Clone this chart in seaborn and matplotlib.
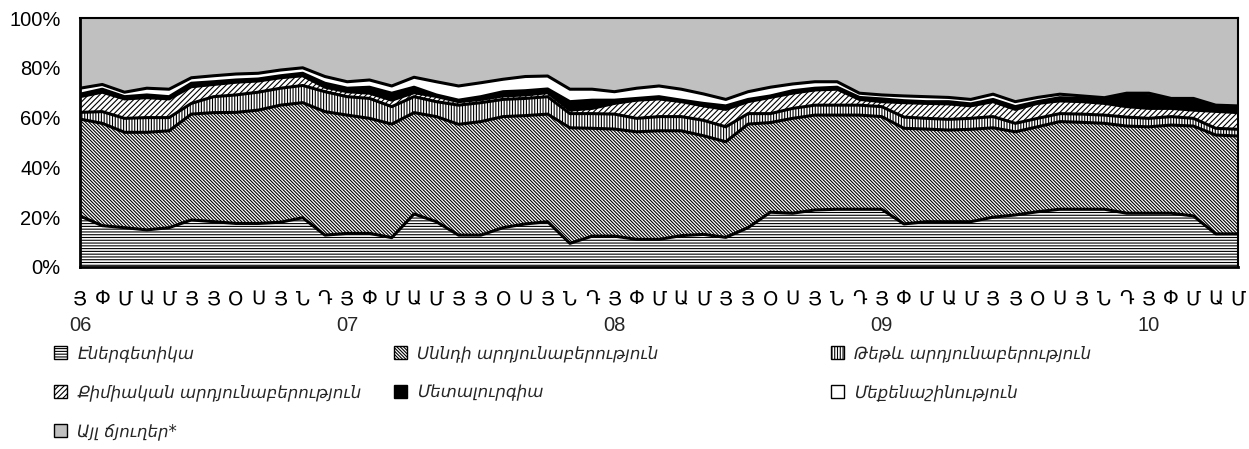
import numpy as np
import pandas as pd
import matplotlib
matplotlib.use("Agg")
import matplotlib.pyplot as plt
import matplotlib.transforms as mtransforms
from matplotlib.patches import Patch
import seaborn as sns

# ---- data (shares, %) ----
months = ["Յ", "Փ", "Մ", "Ա", "Մ", "Յ", "Յ", "Օ", "Ս", "Յ", "Ն", "Դ"]
years = ["06", "07", "08", "09", "10"]
month_labels = (months * 5)[:53]

series_names = [
    "Էներգետիկա",
    "Սննդի արդյունաբերություն",
    "Թեթև արդյունաբերություն",
    "Քիմիական արդյունաբերություն",
    "Մետալուրգիա",
    "Մեքենաշինություն",
    "Այլ ճյուղեր*",
]

energy = [20.5, 16.6, 15.8, 14.9, 15.8, 18.9, 18.2, 17.5, 17.5, 18.0, 19.8, 12.8, 13.5, 13.5,
          11.8, 21.3, 18.2, 12.8, 12.8, 15.8, 17.3, 18.2, 9.5, 12.4, 12.4, 11.1, 11.1, 12.6,
          13.1, 11.9, 15.8, 22.0, 21.6, 22.9, 23.2, 23.2, 23.2, 17.3, 18.2, 18.2, 18.2, 20.0,
          20.9, 22.2, 23.2, 23.2, 23.2, 21.6, 21.6, 21.6, 20.5, 13.3, 13.3]
food = [38.9, 41.1, 38.3, 39.2, 38.9, 42.5, 43.8, 44.6, 45.5, 47.0, 46.2, 49.6, 47.5, 46.2,
        45.6, 40.7, 42.2, 44.5, 45.6, 44.6, 43.5, 43.2, 46.4, 43.3, 43.0, 43.2, 43.6, 42.1,
        39.6, 38.4, 41.6, 36.0, 38.1, 38.1, 37.8, 37.8, 37.2, 38.4, 37.2, 36.8, 37.1, 35.9,
        33.4, 34.1, 35.2, 34.9, 34.5, 35.0, 34.7, 35.4, 36.1, 39.7, 39.3]
light = [2.7, 4.7, 5.6, 5.9, 5.3, 4.3, 6.4, 7.0, 7.2, 6.8, 6.9, 8.0, 7.4, 8.0,
         7.0, 6.4, 6.0, 7.7, 7.6, 6.9, 6.9, 7.0, 5.7, 5.9, 6.0, 5.4, 5.7, 5.7,
         6.2, 6.0, 4.2, 3.6, 4.0, 4.0, 4.0, 4.0, 4.0, 4.5, 4.3, 4.3, 4.4, 4.5,
         3.4, 3.4, 3.2, 3.3, 3.3, 3.6, 3.4, 3.4, 3.1, 2.7, 2.7]
chemical = [6.3, 7.8, 7.8, 8.0, 7.5, 6.7, 4.9, 5.1, 4.5, 4.2, 3.9, 1.8, 2.0, 2.1,
            2.6, 1.6, 2.1, 1.4, 1.3, 1.4, 1.4, 1.6, 1.4, 2.1, 4.3, 7.3, 7.1, 6.0,
            5.8, 7.0, 4.8, 6.5, 6.1, 6.1, 6.4, 2.3, 2.0, 5.8, 6.0, 6.2, 5.0, 6.0,
            5.6, 6.0, 5.1, 5.0, 4.7, 4.2, 4.0, 3.3, 3.3, 6.8, 6.7]
metallurgy = [1.0, 1.2, 0.9, 1.1, 0.9, 1.4, 1.1, 0.9, 0.8, 0.8, 1.0, 1.6, 1.4, 2.4,
              2.8, 2.2, 0.6, 0.6, 1.1, 1.7, 1.7, 1.5, 3.4, 3.3, 1.3, 0.7, 0.9, 0.6,
              1.0, 1.4, 0.9, 0.6, 1.0, 0.7, 0.8, 0.8, 1.1, 0.8, 0.7, 0.9, 0.8, 0.9,
              1.1, 0.7, 1.3, 1.3, 1.6, 4.7, 5.1, 3.6, 4.3, 2.2, 2.3]
machinery = [2.4, 1.9, 1.8, 2.7, 3.0, 2.2, 2.4, 2.4, 2.3, 2.3, 2.2, 2.7, 2.6, 2.9,
             2.9, 4.0, 5.3, 5.7, 5.6, 5.0, 5.7, 5.2, 5.0, 4.4, 3.4, 4.1, 4.3, 4.4,
             3.8, 2.6, 3.1, 3.5, 2.7, 2.6, 2.2, 1.7, 1.6, 1.9, 2.0, 1.7, 1.8, 2.1,
             2.0, 1.7, 1.4, 1.0, 0.7, 0.7, 1.0, 0.4, 0.4, 0.3, 0.4]
other = [28.2, 26.7, 29.8, 28.2, 28.6, 24.0, 23.2, 22.5, 22.2, 20.9, 20.0, 23.5, 25.6, 24.9,
         27.3, 23.8, 25.6, 27.3, 26.0, 24.6, 23.5, 23.3, 28.6, 28.6, 29.6, 28.2, 27.3, 28.6,
         30.5, 32.7, 29.6, 27.8, 26.5, 25.6, 25.6, 30.2, 30.9, 31.3, 31.6, 31.9, 32.7, 30.6,
         33.6, 31.9, 30.6, 31.3, 32.0, 30.2, 30.2, 32.3, 32.3, 35.0, 35.3]

# ---- style ----
sns.set_style("white")
plt.rcParams['font.family'] = ['Liberation Sans', 'DejaVu Sans']
plt.rcParams['hatch.linewidth'] = 0.8

face = ["white", "white", "white", "white", "black", "white", "#c0c0c0"]
hatches = ["------", "\\" * 10, "||||||", "//////", None, None, None]

fig = plt.figure(figsize=(12.49, 4.49), dpi=100)
ax = fig.add_axes([80 / 1249, 1 - 267 / 449, (1238 - 80) / 1249, (267 - 18) / 449])

x = np.arange(len(energy))
stack = np.array([energy, food, light, chemical, metallurgy, machinery, other], dtype=float)
stack = stack / stack.sum(axis=0) * 100
cum = np.cumsum(stack, axis=0)
lower = np.vstack([np.zeros(len(x)), cum[:-1]])

for i in range(len(series_names)):
    ax.fill_between(x, lower[i], cum[i], facecolor=face[i], hatch=hatches[i],
                    edgecolor="black", linewidth=0)

rows = []
for i in range(len(series_names) - 1):
    for xi, yi in zip(x, cum[i]):
        rows.append({"x": xi, "y": yi, "layer": i})
df = pd.DataFrame(rows)
sns.lineplot(data=df, x="x", y="y", units="layer", estimator=None, color="black",
             linewidth=2.2, ax=ax, legend=False)

ax.set_xlim(0, len(x) - 1)
ax.set_ylim(0, 100)
ax.set_xlabel("")
ax.set_ylabel("")
ax.set_yticks(range(0, 101, 20))
ax.set_yticklabels([f"{v}%" for v in range(0, 101, 20)], fontsize=14.5)
ax.set_xticks(x)
ax.set_xticklabels(month_labels, fontsize=14, family=['DejaVu Sans'])
ax.tick_params(axis='y', direction='out', length=7, width=1.5, pad=7, colors='black')
ax.tick_params(axis='x', direction='out', length=7, width=1.5, pad=9, colors='black')
for side, sp in ax.spines.items():
    sp.set_visible(True)
    sp.set_color("black")
    sp.set_linewidth(1.5)
ax.spines['left'].set_linewidth(2)
ax.spines['bottom'].set_linewidth(2)

trans = mtransforms.blended_transform_factory(ax.transData, ax.transAxes)
for j, yr in enumerate(years):
    ax.text(j * 12, -0.235, yr, transform=trans, ha="center", va="center", fontsize=14.5)

# legend: manually positioned entries (3 columns)
positions = [(54, 353), (394, 353), (831, 353),
             (54, 392), (394, 392), (831, 392),
             (54, 431)]
for i, (px, py) in enumerate(positions):
    h = Patch(facecolor=face[i], hatch=hatches[i], edgecolor="black", linewidth=1)
    fig.legend(handles=[h], labels=[series_names[i]], loc="center left",
               bbox_to_anchor=(px / 1249, 1 - py / 449), frameon=False,
               handlelength=0.8, handleheight=0.8, handletextpad=0.6,
               borderpad=0, borderaxespad=0,
               prop={"family": ["DejaVu Sans"], "style": "italic", "size": 12})

fig.savefig("out.png", dpi=100)
